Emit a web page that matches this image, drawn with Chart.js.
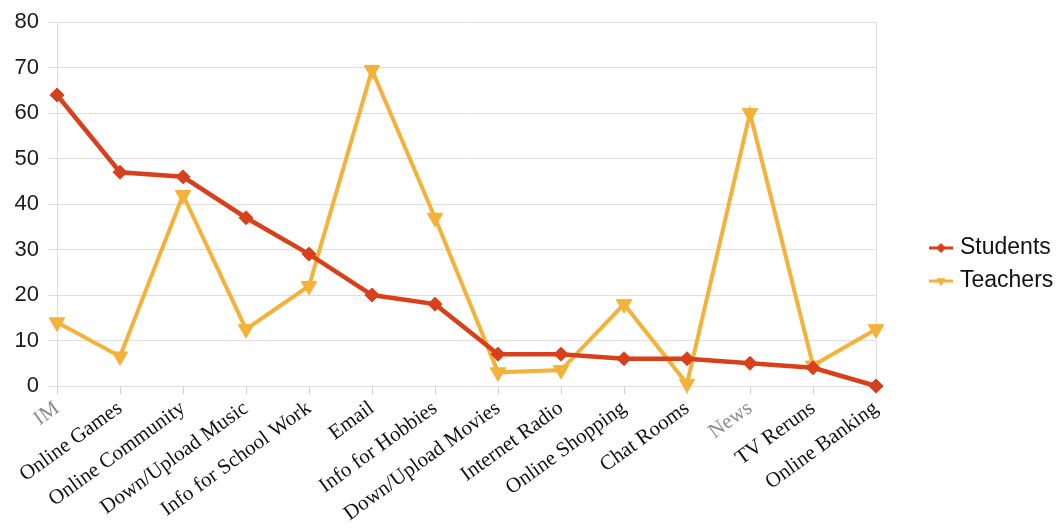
<!DOCTYPE html>
<html>
<head>
<meta charset="utf-8">
<script src="https://cdn.jsdelivr.net/npm/chart.js@4"></script>
<style>
  html, body { margin: 0; padding: 0; background: #ffffff; }
  #wrap { width: 1059px; height: 531px; }
</style>
</head>
<body>
<div id="wrap"><canvas id="chart" width="1059" height="531"></canvas></div>
<script>
// Internet activities: share of students vs. teachers (%)
const categories = [
  'IM', 'Online Games', 'Online Community', 'Down/Upload Music',
  'Info for School Work', 'Email', 'Info for Hobbies', 'Down/Upload Movies',
  'Internet Radio', 'Online Shopping', 'Chat Rooms', 'News', 'TV Reruns',
  'Online Banking'
];
const students = [64, 47, 46, 37, 29, 20, 18, 7, 7, 6, 6, 5, 4, 0];
const teachers = [14, 6.5, 42, 12.5, 22, 69.5, 37, 3, 3.5, 18, 0.5, 60, 4.5, 12.5];
const yTicks = [0, 10, 20, 30, 40, 50, 60, 70, 80];

const RED = '#d8401c';
const GOLD = '#f4b23a';
const GRID = '#dedede';
const fadedLabels = ['IM', 'News'];

// Right-hand legend: a short line with the series' point glyph, then its name
const sideLegend = {
  id: 'sideLegend',
  afterDraw(chart) {
    const ctx = chart.ctx;
    const area = chart.chartArea;
    const x0 = area.right + 53;
    const rowGap = 33;
    const sets = chart.data.datasets;
    const yStart = chart.height / 2 - (rowGap * (sets.length - 1)) / 2 - 1;
    sets.forEach((ds, i) => {
      const cy = yStart + i * rowGap;
      ctx.save();
      ctx.strokeStyle = ds.borderColor;
      ctx.lineWidth = 3;
      ctx.beginPath();
      ctx.moveTo(x0, cy);
      ctx.lineTo(x0 + 24, cy);
      ctx.stroke();
      ctx.fillStyle = ds.borderColor;
      ctx.lineWidth = 1;
      Chart.helpers.drawPoint(ctx, {
        pointStyle: ds.pointStyle,
        rotation: ds.pointRotation || 0,
        radius: 4.5,
        borderWidth: 1
      }, x0 + 12, cy);
      ctx.fillStyle = '#111111';
      ctx.font = '23px "Liberation Sans", Arial, sans-serif';
      ctx.textAlign = 'left';
      ctx.textBaseline = 'middle';
      ctx.fillText(ds.label, x0 + 31, cy);
      ctx.restore();
    });
  }
};

new Chart(document.getElementById('chart'), {
  type: 'line',
  data: {
    labels: categories,
    datasets: [
      {
        label: 'Students',
        data: students,
        borderColor: RED,
        backgroundColor: RED,
        borderWidth: 4.5,
        pointStyle: 'rectRot',
        pointRadius: 7,
        pointHoverRadius: 7,
        pointBorderWidth: 1,
        tension: 0,
        clip: false
      },
      {
        label: 'Teachers',
        data: teachers,
        borderColor: GOLD,
        backgroundColor: GOLD,
        borderWidth: 4,
        pointStyle: 'triangle',
        pointRotation: 180,
        pointRadius: 9,
        pointHoverRadius: 9,
        pointBorderWidth: 1,
        tension: 0,
        clip: false
      }
    ]
  },
  options: {
    responsive: false,
    animation: false,
    layout: { padding: { left: 14, top: 21, right: 183, bottom: 0 } },
    plugins: {
      tooltip: { enabled: false },
      legend: { display: false }
    },
    scales: {
      x: {
        type: 'category',
        offset: false,
        border: { display: false },
        grid: {
          color: ctx => (ctx.index === 0 || ctx.index === categories.length - 1) ? GRID : 'rgba(0,0,0,0)',
          tickColor: '#cfcfcf',
          tickLength: 8,
          drawOnChartArea: true
        },
        ticks: {
          autoSkip: false,
          maxRotation: 36,
          minRotation: 36,
          padding: 2,
          font: { family: 'Liberation Serif, Times New Roman, serif', size: 21 },
          color: ctx => fadedLabels.includes(categories[ctx.index]) ? '#8c8c8c' : '#111111'
        },
        afterFit(scale) { scale.height = 145; }
      },
      y: {
        min: yTicks[0],
        max: yTicks[yTicks.length - 1],
        border: { display: false },
        grid: { color: GRID, tickLength: 9 },
        afterBuildTicks(scale) { scale.ticks = yTicks.map(v => ({ value: v })); },
        ticks: {
          padding: 9,
          font: { family: 'Liberation Sans, Arial, sans-serif', size: 22 },
          color: '#1a1a1a'
        },
        afterFit(scale) { scale.width = 43; }
      }
    }
  },
  plugins: [sideLegend]
});
</script>
</body>
</html>
